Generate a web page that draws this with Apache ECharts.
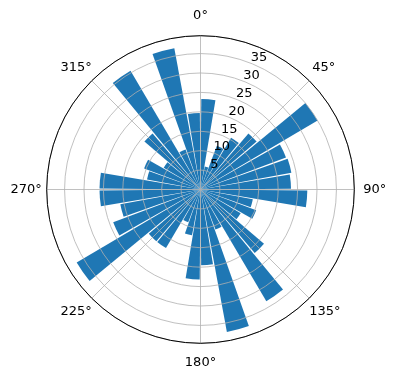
<!DOCTYPE html>
<html>
<head>
    <meta charset="utf-8">
    <title>Polar bars</title>
    <script src="https://cdn.jsdelivr.net/npm/echarts@6/dist/echarts.min.js"></script>
    <style>
        html, body { margin: 0; padding: 0; background: #fff; }
    </style>
</head>
<body>
    <div id="main" style="width: 396px;height:380px;"></div>
    <script type="text/javascript">
    // bar centres (degrees, clockwise from north)
    var angles = [5, 15, 25, 35, 45, 55, 65, 75, 85, 95, 105, 115,
                  125, 135, 145, 155, 165, 175, 185, 195, 205, 215, 225, 235,
                  245, 255, 265, 275, 285, 295, 305, 315, 325, 335, 345, 355];
    // bar heights
    var radii = [23.3, 6, 12, 15.5, 19, 35, 23.5, 23.8, 23.3, 27.5, 13.7, 15.3,
                 12, 21.5, 33.4, 11, 37.3, 19.5, 23.2, 12, 9, 17.5, 17.5, 37,
                 24, 21, 26, 26, 14, 15.5, 11, 19, 35.5, 11, 37, 19.7];
    var angleTicks = [0, 45, 90, 135, 180, 225, 270, 315];
    var radiusTicks = [5, 10, 15, 20, 25, 30, 35];
    var rMax = 39.6;

    var font = 'DejaVu Sans';
    var R = 153.8;
    var C = [200.5, 189.5];

    // padding per angle label so they sit at matplotlib's distance
    var pads = {
        0: [0, 0, 14, 0], 45: [0, 0, 7, 3], 90: [0, 0, 0, 9], 135: [7, 0, 0, 0],
        180: [13, 0, 0, 0], 225: [7, 0, 0, 0], 270: [0, 5, 0, 0], 315: [0, 0, 7, 0]
    };
    var rich = {};
    angleTicks.forEach(function (a) {
        rich['a' + a] = { fontFamily: font, fontSize: 13, color: '#000', padding: pads[a] };
    });

    var myChart = echarts.init(document.getElementById('main'));

    var option = {
        animation: false,
        polar: [
            { center: C, radius: R },
            { center: C, radius: R },
            { center: [207, 183], radius: R }
        ],
        angleAxis: [
            {
                polarIndex: 0, type: 'category', data: angles,
                startAngle: 90, clockwise: true,
                axisLine: { show: false }, axisTick: { show: false },
                axisLabel: { show: false }, splitLine: { show: false }
            },
            {
                // grid sits on top of the bars, as in matplotlib
                polarIndex: 1, type: 'value', min: 0, max: 360, interval: 45,
                startAngle: 90, clockwise: true, zlevel: 1,
                axisLine: { lineStyle: { color: '#000', width: 1 } },
                axisTick: { show: false },
                axisLabel: {
                    margin: 0,
                    formatter: function (v) {
                        return angleTicks.indexOf(v) >= 0 ? '{a' + v + '|' + v + '°}' : '';
                    },
                    rich: rich
                },
                splitLine: { show: true, lineStyle: { color: '#b0b0b0', width: 0.8 } }
            },
            {
                polarIndex: 2, type: 'value', min: 0, max: 360,
                startAngle: 67.5, clockwise: true,
                axisLine: { show: false }, axisTick: { show: false },
                axisLabel: { show: false }, splitLine: { show: false }
            }
        ],
        radiusAxis: [
            {
                polarIndex: 0, min: 0, max: rMax,
                axisLine: { show: false }, axisTick: { show: false },
                axisLabel: { show: false }, splitLine: { show: false }
            },
            {
                polarIndex: 1, min: 0, max: rMax, interval: 5, zlevel: 1,
                axisLine: { show: false }, axisTick: { show: false },
                axisLabel: { show: false },
                splitLine: { show: true, lineStyle: { color: '#b0b0b0', width: 0.8 } }
            },
            {
                polarIndex: 2, min: 0, max: rMax, interval: 5, zlevel: 1,
                axisLine: { show: false }, axisTick: { show: false },
                splitLine: { show: false },
                axisLabel: {
                    margin: 0, align: 'center', verticalAlign: 'middle',
                    fontFamily: font, fontSize: 13, color: '#000',
                    formatter: function (v) {
                        return radiusTicks.indexOf(v) >= 0 ? String(v) : '';
                    }
                }
            }
        ],
        series: [{
            type: 'bar',
            coordinateSystem: 'polar',
            polarIndex: 0,
            barWidth: '90%',
            itemStyle: { color: '#1f77b4' },
            data: radii
        }]
    };

    myChart.setOption(option);
    </script>
</body>
</html>
